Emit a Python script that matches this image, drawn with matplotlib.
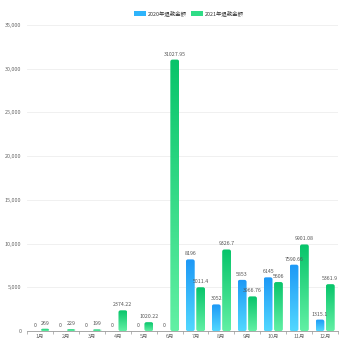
import numpy as np
import matplotlib
matplotlib.use("Agg")
import matplotlib.pyplot as plt
from matplotlib.patches import FancyBboxPatch, Rectangle
from matplotlib.colors import LinearSegmentedColormap

plt.rcParams["font.family"] = ["Noto Sans CJK SC", "DejaVu Sans"]

months = ["1月", "2月", "3月", "4月", "5月", "6月", "7月", "8月", "9月", "10月", "11月", "12月"]
refund_2020 = [0, 0, 0, 0, 0, 0, 8196, 3052, 5853, 6145, 7590.66, 1315.1]
refund_2021 = [269, 229, 199, 2374.22, 1020.22, 31027.95, 5011.4, 9326.7, 3966.76, 5606, 9901.08, 5361.9]
labels_2020 = ["0", "0", "0", "0", "0", "0", "8196", "3052", "5853", "6145", "7590.66", "1315.1"]
labels_2021 = ["269", "229", "199", "2374.22", "1020.22", "31027.95", "5011.4", "9326.7", "3966.76", "5606", "9901.08", "5361.9"]
series_names = ["2020年退款金额", "2021年退款金额"]

blue_cmap = LinearSegmentedColormap.from_list("b", ["#52d8ff", "#1d98f6"])
green_cmap = LinearSegmentedColormap.from_list("g", ["#62f0a4", "#07c46a"])

fig = plt.figure(figsize=(3.5, 3.5), dpi=100)
ax = fig.add_axes([0.077, 0.054, 0.889, 0.875])
ymax = 35000
ax.set_xlim(-0.5, len(months) - 0.5)
ax.set_ylim(0, ymax)

bw = 0.34
off = 0.2
grad = np.linspace(0, 1, 256).reshape(-1, 1)


def gradient_bar(x, h, cmap):
    if h <= 0:
        return
    patch = FancyBboxPatch((x - bw / 2, 0), bw, h,
                           boxstyle="round,pad=0,rounding_size=0.08",
                           mutation_aspect=ymax / 12.0,
                           facecolor="none", edgecolor="none")
    ax.add_patch(patch)
    im = ax.imshow(grad, cmap=cmap, extent=(x - bw / 2, x + bw / 2, 0, h),
                   origin="lower", aspect="auto", zorder=2)
    im.set_clip_path(patch)


for i, (a, b) in enumerate(zip(refund_2020, refund_2021)):
    gradient_bar(i - off, a, blue_cmap)
    gradient_bar(i + off, b, green_cmap)
    ax.text(i - off, a + 350, labels_2020[i], ha="center", va="bottom",
            fontsize=3.8, color="#555555", zorder=3)
    ax.text(i + off, b + 350, labels_2021[i], ha="center", va="bottom",
            fontsize=3.8, color="#555555", zorder=3)

ax.set_aspect("auto")
yticks = np.arange(0, ymax + 1, 5000)
ax.set_yticks(yticks)
ax.set_yticklabels([f"{int(v):,}" for v in yticks], fontsize=3.9, color="#666666")
ax.yaxis.grid(True, color="#eeeeee", linewidth=0.6)
ax.set_axisbelow(True)
ax.tick_params(axis="y", length=0, pad=4)

ax.set_xticks(range(len(months)))
ax.set_xticklabels(months, fontsize=3.9, color="#666666")
ax.set_xticks(np.arange(-0.5, len(months)), minor=True)
ax.tick_params(axis="x", which="major", length=0, pad=2)
ax.tick_params(axis="x", which="minor", length=2.5, color="#999999", width=0.5)

for s in ["top", "right", "left"]:
    ax.spines[s].set_visible(False)
ax.spines["bottom"].set_color("#999999")
ax.spines["bottom"].set_linewidth(0.6)

handles = [Rectangle((0, 0), 1, 1, facecolor="#2fb4fb"),
           Rectangle((0, 0), 1, 1, facecolor="#2fdc86")]
fig.legend(handles, series_names, loc="center", bbox_to_anchor=(0.54, 0.962),
           ncol=2, frameon=False, fontsize=3.9, handlelength=2.2, handleheight=1.0,
           columnspacing=0.8, handletextpad=0.4, labelcolor="#333333")

fig.savefig("out.png", dpi=100)
